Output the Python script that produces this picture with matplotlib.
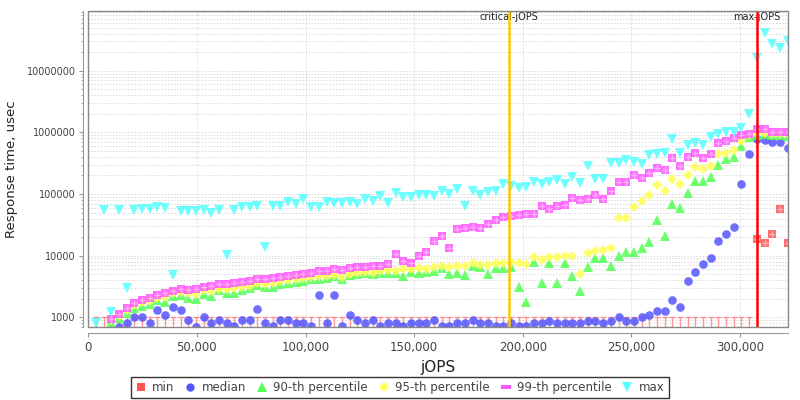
import numpy as np
import matplotlib
matplotlib.use("Agg")
import matplotlib.pyplot as plt
from matplotlib.ticker import FixedLocator, FuncFormatter, LogLocator, NullFormatter
from matplotlib.patches import Rectangle
from matplotlib.lines import Line2D
from matplotlib.path import Path
import matplotlib.transforms as mtransforms

# ---------------- data ----------------
jops = [3537, 7074, 10611, 14148, 17685, 21222, 24759, 28296, 31833, 35370,
        38907, 42444, 45981, 49518, 53055, 56592, 60129, 63666, 67203, 70740,
        74277, 77814, 81351, 84888, 88425, 91962, 95499, 99036, 102573, 106110,
        109647, 113184, 116721, 120258, 123795, 127332, 130869, 134406, 137943, 141480,
        145017, 148554, 152091, 155628, 159165, 162702, 166239, 169776, 173313, 176850,
        180387, 183924, 187461, 190998, 194535, 198072, 201609, 205146, 208683, 212220,
        215757, 219294, 222831, 226368, 229905, 233442, 236979, 240516, 244053, 247590,
        251127, 254664, 258201, 261738, 265275, 268812, 272349, 275886, 279423, 282960,
        286497, 290034, 293571, 297108, 300645, 304182, 307719, 311256, 314793, 318330,
        321867]

# None = below the lower bound of the axis
min_us = [None] * 86 + [18400, 16200, 22400, 57100, 16200]

median_us = [None, None, None, 700, 800, 1000, 1000, 800, 1300, 1090,
             1490, 1300, 900, 700, 1000, 800, 900, 800, 720, 900,
             900, 1380, 800, 720, 900, 900, 800, 800, 720, 2300,
             800, 2300, 720, 1090, 900, 800, 900, 720, 800, 800,
             720, 800, 800, 800, 900, 720, 720, 800, 800, 900,
             800, 800, 720, 720, 800, 720, 720, 800, 800, 880,
             800, 800, 800, 800, 880, 880, 800, 880, 1000, 880,
             880, 1000, 1090, 1280, 1280, 1890, 1490, 3920, 5500, 7400,
             9050, 17300, 22200, 29200, 147000, 451000, 771000, 750000, 707000, 707000,
             550000]

p90_us = [None, None, 800, 990, 1190, 1430, 1520, 1620, 1910, 1790,
          2240, 2300, 2080, 1960, 2410, 2180, 2770, 2500, 2450, 2770,
          2950, 3340, 3130, 3060, 3470, 3640, 3780, 3880, 4130, 4130,
          4380, 4670, 4130, 4850, 4980, 5170, 5030, 5290, 5290, 5170,
          4670, 5500, 5290, 5500, 5700, 6230, 5100, 5290, 4850, 6870,
          6620, 5030, 6380, 6230, 6620, 3060, 1790, 7980, 3560, 7680,
          3640, 7500, 4730, 2670, 6460, 9050, 9050, 6790, 9700, 11300,
          11600, 13200, 16600, 38300, 21100, 69800, 59000, 104000, 162000, 162000,
          190000, 290000, 368000, 400000, 600000, 850000, 905000, 940000, 905000, 905000,
          870000]

p95_us = [None, None, 900, 1050, 1310, 1580, 1750, 1840, 2080, 2160,
          2450, 2570, 2450, 2390, 2740, 2700, 2850, 2850, 2990, 3130,
          3220, 3560, 3430, 3640, 3880, 4030, 4130, 4340, 4560, 4670,
          4620, 4850, 4460, 5030, 5170, 5500, 5290, 5700, 5850, 5700,
          6010, 6010, 6230, 6010, 6460, 6790, 6540, 6790, 6790, 7680,
          7050, 7050, 7680, 7680, 7980, 7680, 7330, 9400, 8500, 9600,
          9400, 9840, 10000, 5100, 10900, 11900, 12300, 13200, 40800, 40300,
          60800, 77000, 95000, 142000, 112000, 175000, 145000, 200000, 278000, 258000,
          280000, 447000, 465000, 514000, 731000, 900000, 980000, 980000, 950000, 950000,
          950000]

p99_us = [None, None, 930, 1130, 1430, 1730, 1900, 2030, 2300, 2450,
          2700, 2900, 2800, 2850, 3130, 3220, 3430, 3430, 3560, 3730,
          3830, 4130, 4130, 4340, 4560, 4670, 4790, 5030, 5170, 5640,
          5570, 6010, 5850, 6230, 6540, 6620, 6790, 6870, 7240, 10600,
          8300, 7680, 9840, 11600, 17300, 21100, 13500, 27300, 28000, 28700,
          28000, 32200, 38300, 42500, 44400, 45000, 46700, 47300, 63800, 56500,
          63000, 66200, 85000, 81000, 83000, 95000, 83000, 112000, 155000, 155000,
          203000, 179000, 221000, 267000, 245000, 380000, 280000, 403000, 458000, 390000,
          447000, 663000, 717000, 795000, 905000, 950000, 1120000, 1120000, 1000000, 1000000,
          1000000]

max_us = [815, 55000, 1200, 55000, 2950, 55000, 57000, 57000, 62000, 59000,
          4800, 53000, 52000, 52000, 55000, 49000, 56000, 10100, 56000, 61000,
          62000, 64000, 13600, 64000, 64000, 74000, 69000, 82000, 62000, 61000,
          75000, 72000, 72000, 74000, 70000, 82000, 78000, 93000, 72000, 105000,
          90000, 90000, 98000, 98000, 93000, 113000, 99000, 119000, 64000, 113000,
          96000, 109000, 113000, 144000, 135000, 123000, 131000, 158000, 144000, 158000,
          169000, 144000, 187000, 152000, 284000, 175000, 175000, 315000, 315000, 356000,
          335000, 305000, 425000, 446000, 460000, 780000, 465000, 624000, 680000, 615000,
          830000, 940000, 1000000, 1000000, 1170000, 2000000, 16200000, 41000000, 26800000, 23000000,
          30700000]

critical_jops = 193800
max_jops = 307719

series_labels = ["min", "median", "90-th percentile", "95-th percentile",
                 "99-th percentile", "max"]

# ---------------- style ----------------
C_MIN, C_MED, C_P90, C_P95, C_P99, C_MAX = ("#FF5555", "#5555FF", "#55FF55",
                                            "#FFFF55", "#FF55FF", "#55FFFF")
MIN_FLOOR = 1000
YMIN, YMAX = 688, 9.4e7
XMAX = 322200
GRID = dict(color="#d2d2d2", linestyle=(0, (2, 2)), linewidth=0.55)
TXT = "#444444"

rect_marker = Path([(-1, -0.45), (1, -0.45), (1, 0.45), (-1, 0.45), (-1, -0.45)],
                   [Path.MOVETO, Path.LINETO, Path.LINETO, Path.LINETO, Path.CLOSEPOLY])


def arr(v):
    return np.array([np.nan if x is None else x for x in v], dtype=float)


x = np.array(jops, dtype=float)

fig = plt.figure(figsize=(8, 4), dpi=100)
fig.patch.set_facecolor("white")
L, R, T, B = 88.3, 788.3, 10.7, 327.3
ax = fig.add_axes([L / 800, 1 - B / 400, (R - L) / 800, (B - T) / 400])
ax.set_yscale("log")
ax.set_xlim(0, XMAX)
ax.set_ylim(YMIN, YMAX)

# grid
ax.yaxis.set_major_locator(FixedLocator([1e3, 1e4, 1e5, 1e6, 1e7]))
ax.yaxis.set_minor_locator(LogLocator(base=10, subs=np.arange(2, 10), numticks=20))
ax.yaxis.set_minor_formatter(NullFormatter())
ax.yaxis.set_major_formatter(FuncFormatter(lambda v, p: f"{int(round(v))}"))
ax.xaxis.set_major_locator(FixedLocator([0, 50000, 100000, 150000, 200000, 250000, 300000]))
ax.xaxis.set_major_formatter(FuncFormatter(lambda v, p: f"{int(v):,}"))
ax.grid(which="major", axis="both", **GRID)
ax.grid(which="minor", axis="y", **GRID)
ax.set_axisbelow(True)

# min values below axis: "T" marks up to floor
mn = arr(min_us)
below = np.isnan(mn)
ax.vlines(x[below], YMIN, MIN_FLOOR, color=C_MIN, alpha=0.6, lw=1.0, zorder=2)
ax.plot(x[below], np.full(below.sum(), MIN_FLOOR), linestyle="none", marker="_",
        markersize=5, mew=1.0, color=C_MIN, alpha=0.6, zorder=2)

al = 0.85
ax.plot(x, mn, "s", color=C_MIN, alpha=al, ms=5.5, mew=0, zorder=3)
ax.plot(x, mn, "+", color="white", alpha=0.45, ms=4.5, mew=1, zorder=3.1)
ax.plot(x, arr(median_us), "o", color=C_MED, alpha=al, ms=6.2, mew=0, zorder=3)
ax.plot(x, arr(p90_us), "^", color=C_P90, alpha=al, ms=6.5, mew=0, zorder=3)
ax.plot(x, arr(p95_us), "D", color=C_P95, alpha=al, ms=5.0, mew=0, zorder=3)
ax.plot(x, arr(p99_us), "s", color=C_P99, alpha=al, ms=5.5, mew=0, zorder=3)
ax.plot(x, arr(p99_us), "+", color="white", alpha=0.45, ms=4.5, mew=1, zorder=3.1)
ax.plot(x, arr(max_us), "v", color=C_MAX, alpha=al, ms=6.5, mew=0, zorder=3)

# markers
ax.axvline(critical_jops, color="#FFC800", lw=1.8, zorder=4)
ax.axvline(max_jops, color="#FF0000", lw=1.8, zorder=4)
trans = mtransforms.blended_transform_factory(ax.transData, ax.transAxes)
ytxt = 1 - (17.5 - T) / (B - T)
ax.text(critical_jops, ytxt, "critical-jOPS", transform=trans, ha="center", va="center",
        fontsize=7, color="#222222", zorder=3.5)
ax.text(max_jops, ytxt, "max-jOPS", transform=trans, ha="center", va="center",
        fontsize=7, color="#222222", zorder=3.5)

# spines / outline
for s in ax.spines.values():
    s.set_color("#999999")
    s.set_linewidth(0.8)
ax.spines["left"].set_position(("outward", 4))
ax.spines["bottom"].set_position(("outward", 4))
ax.spines["top"].set_visible(False)
ax.spines["right"].set_visible(False)
ax.add_patch(Rectangle((0, 0), 1, 1, transform=ax.transAxes, fill=False,
                       edgecolor="#888888", lw=1.0, clip_on=False, zorder=5))

ax.tick_params(axis="y", which="major", labelsize=7, length=3, color="#999999",
               labelcolor=TXT, pad=2)
ax.tick_params(axis="y", which="minor", length=1.5, color="#999999")
ax.tick_params(axis="x", which="major", labelsize=8.5, length=3, color="#999999",
               labelcolor=TXT, pad=3)

ax.set_ylabel("Response time, usec", fontsize=9.5, color="#222222", labelpad=6)
ax.set_xlabel("jOPS", fontsize=11, color="#222222", labelpad=4)

# legend
handles = [
    Line2D([], [], ls="none", marker="s", color=C_MIN, ms=6, mew=0),
    Line2D([], [], ls="none", marker="o", color=C_MED, ms=6, mew=0),
    Line2D([], [], ls="none", marker="^", color=C_P90, ms=6.5, mew=0),
    Line2D([], [], ls="none", marker="D", color=C_P95, ms=5, mew=0),
    Line2D([], [], ls="none", marker=rect_marker, color=C_P99, ms=7, mew=0),
    Line2D([], [], ls="none", marker="v", color=C_MAX, ms=6.5, mew=0),
]
leg = fig.legend(handles, series_labels, loc="center", bbox_to_anchor=(0.5, 1 - 387.5 / 400),
                 ncol=6, fontsize=8.5, frameon=True, fancybox=False, edgecolor="black",
                 handlelength=0.9, handletextpad=0.5, columnspacing=0.9, borderpad=0.35,
                 borderaxespad=0)
leg.get_frame().set_linewidth(1.0)
for t in leg.get_texts():
    t.set_color(TXT)

fig.savefig("out.png", dpi=100, facecolor="white")
